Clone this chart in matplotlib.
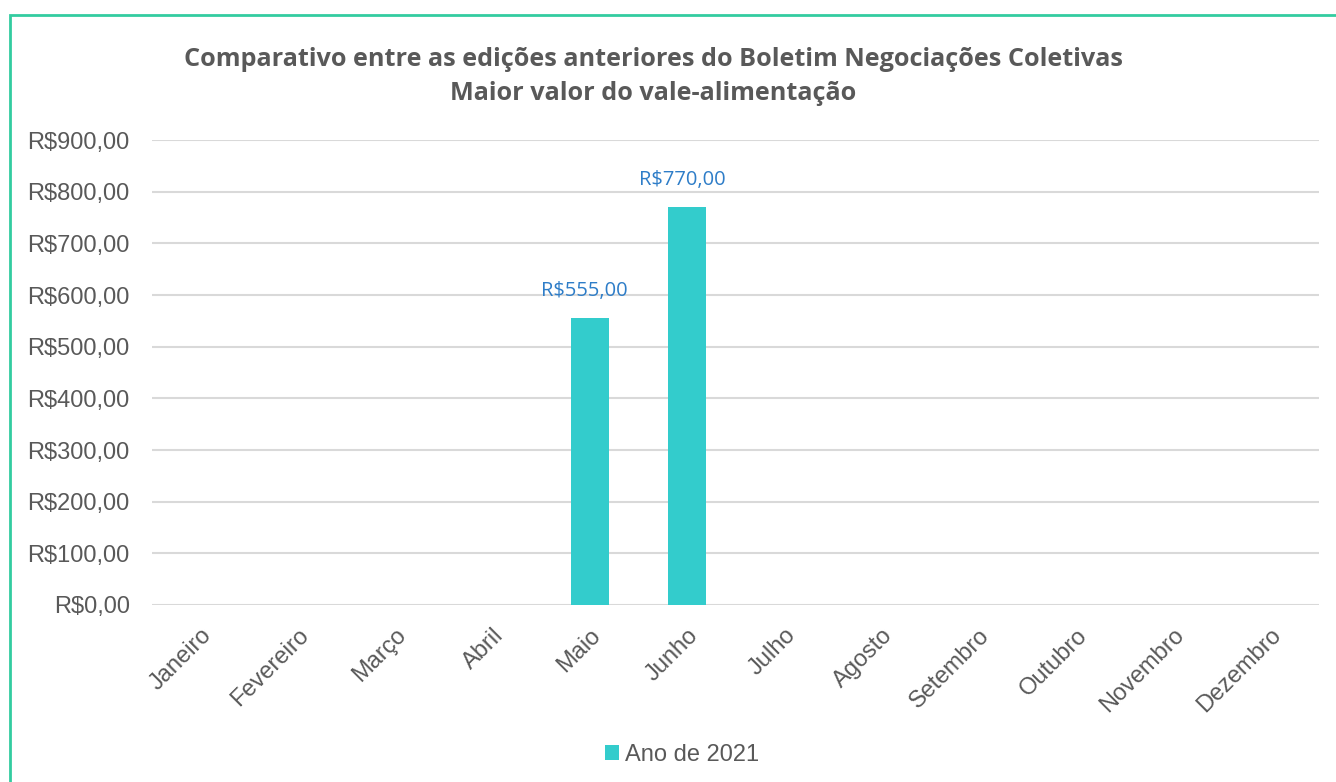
import matplotlib.pyplot as plt
from matplotlib.patches import Rectangle
from matplotlib.transforms import ScaledTranslation

meses = ['Janeiro', 'Fevereiro', 'Março', 'Abril', 'Maio', 'Junho', 'Julho',
         'Agosto', 'Setembro', 'Outubro', 'Novembro', 'Dezembro']
valores = [0, 0, 0, 0, 555, 770, 0, 0, 0, 0, 0, 0]
serie = 'Ano de 2021'
yticks = [0, 100, 200, 300, 400, 500, 600, 700, 800, 900]

cinza = '#595959'
fig = plt.figure(figsize=(13.36, 7.82), dpi=100)
ax = fig.add_axes([152/1336, 1-605/782, 1167/1336, 465/782])

x = range(len(meses))
bars = ax.bar(x, valores, width=0.39, color='#33cccc', label=serie, zorder=3)

# pequeno deslocamento para a esquerda, como no Excel
desloc = ScaledTranslation(-5/100, 0, fig.dpi_scale_trans)

for xi, v in zip(x, valores):
    if v > 0:
        ax.text(xi, v + 33, 'R$' + f'{v:.2f}'.replace('.', ','), ha='center', va='bottom',
                fontsize=14.5, color='#2e7dc8', family='Open Sans',
                transform=ax.transData + desloc)

ax.set_xlim(-0.5, len(meses) - 0.5)
ax.set_ylim(0, 900)
ax.set_yticks(yticks)
ax.set_yticklabels(['R$' + f'{t:.2f}'.replace('.', ',') for t in yticks],
                   fontsize=17, color=cinza, family='Liberation Sans')
ax.set_xticks(list(x))
ax.set_xticklabels(meses, rotation=45, ha='right', rotation_mode='anchor',
                   fontsize=17, color=cinza, family='Liberation Sans')
for lbl in ax.get_xticklabels():
    lbl.set_transform(lbl.get_transform() + desloc)
ax.tick_params(length=0)
ax.tick_params(axis='x', pad=14)
ax.tick_params(axis='y', pad=16)
ax.grid(axis='y', color='#d9d9d9', linewidth=1.5, zorder=0)
for s in ax.spines.values():
    s.set_visible(False)

fig.text(653/1336, 1-59/782, 'Comparativo entre as edições anteriores do Boletim Negociações Coletivas',
         ha='center', va='center', fontsize=18.2, fontweight='bold', color=cinza, family='Open Sans')
fig.text(653/1336, 1-94/782, 'Maior valor do vale-alimentação',
         ha='center', va='center', fontsize=18.2, fontweight='bold', color=cinza, family='Open Sans')

fig.legend(loc='center', bbox_to_anchor=(682/1336, 1-755/782), frameon=False,
           prop={'family': 'Liberation Sans', 'size': 17}, labelcolor=cinza,
           handlelength=0.6, handleheight=0.6, handletextpad=0.25)

fig.patches.append(Rectangle((10/1336, -0.1), 1.2, 1-15/782 + 0.1, transform=fig.transFigure,
                             fill=False, edgecolor='#33cca0', linewidth=2))

fig.savefig('out.png', dpi=100)
